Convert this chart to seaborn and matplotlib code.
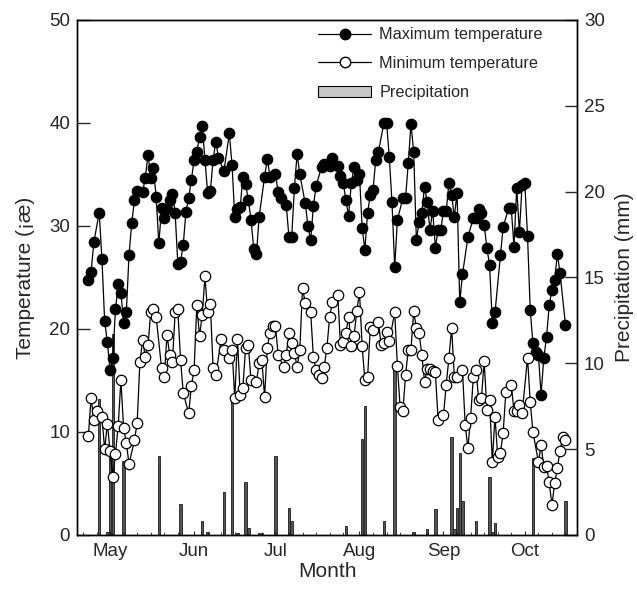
import numpy as np
import pandas as pd
import matplotlib
matplotlib.use("Agg")
import matplotlib.pyplot as plt
import matplotlib.dates as mdates
from matplotlib.lines import Line2D
from matplotlib.patches import Patch
import seaborn as sns

sns.set_style("ticks")
plt.rcParams["font.family"] = ["Liberation Sans", "DejaVu Sans"]

# first observation day (day 0)
start = pd.Timestamp("2009-04-23")

# daily maximum temperature (day offset, deg C)
tmax_day = [0, 1, 2, 4, 5, 6, 7, 8, 9, 10, 11, 12, 13, 14, 15, 16, 17, 18, 20, 21,
            22, 23, 24, 25, 26, 27, 28, 29, 30, 31, 32, 33, 34, 35, 36, 37, 38, 39, 40, 41,
            42, 43, 44, 45, 46, 47, 48, 50, 52, 53, 54, 55, 56, 57, 58, 59, 60, 61, 62, 63,
            65, 66, 67, 69, 70, 71, 73, 74, 75, 76, 77, 78, 80, 81, 82, 83, 84, 86, 87, 89,
            90, 92, 93, 94, 95, 96, 97, 98, 99, 100, 101, 102, 103, 104, 105, 106, 107, 109, 110, 111,
            112, 113, 114, 116, 117, 118, 119, 120, 121, 122, 123, 124, 125, 126, 127, 128, 129, 130, 131, 132,
            133, 134, 135, 136, 137, 138, 140, 142, 143, 144, 145, 146, 147, 148, 149, 150, 152, 153, 155, 156,
            157, 158, 159, 160, 161, 162, 163, 164, 165, 166, 167, 168, 169, 170, 171, 172, 173, 174, 176]
tmax = [24.8, 25.5, 28.4, 31.3, 26.8, 20.8, 18.7, 16.0, 17.2, 21.9, 24.4, 23.5, 20.6, 21.6, 27.2, 30.3, 32.5, 33.4, 33.3, 34.7,
        36.9, 34.7, 35.6, 32.8, 28.3, 31.7, 30.8, 31.6, 32.5, 33.1, 31.3, 26.3, 26.5, 28.2, 31.4, 32.7, 34.5, 36.4, 37.2, 38.6,
        39.7, 36.4, 33.2, 33.4, 36.4, 38.2, 36.6, 35.3, 39.0, 35.9, 30.9, 31.6, 31.8, 34.8, 34.1, 32.5, 30.6, 27.8, 27.3, 30.9,
        34.8, 36.5, 34.8, 35.0, 33.3, 32.7, 32.0, 28.9, 28.9, 33.7, 37.0, 35.0, 32.2, 30.0, 28.6, 31.9, 33.9, 35.7, 36.0, 35.8,
        36.6, 35.8, 34.9, 34.2, 32.5, 31.0, 34.2, 35.7, 34.5, 35.0, 29.8, 27.7, 31.3, 33.0, 33.5, 36.4, 37.2, 40.0, 40.0, 36.7,
        32.3, 26.0, 30.6, 32.7, 32.7, 36.1, 39.9, 37.2, 28.6, 30.4, 31.3, 33.8, 32.3, 29.6, 31.5, 27.9, 29.6, 29.6, 31.5, 31.5,
        34.2, 33.0, 30.9, 33.2, 22.6, 25.3, 28.9, 30.8, 30.8, 31.6, 31.3, 30.1, 27.9, 26.2, 20.6, 21.6, 27.2, 29.9, 31.7, 31.7,
        28.0, 33.7, 29.4, 34.0, 34.2, 29.0, 21.8, 18.6, 17.8, 17.5, 13.6, 17.2, 19.2, 22.3, 23.8, 24.8, 27.3, 25.4, 20.4]

# daily minimum temperature (day offset, deg C)
tmin_day = [0, 1, 2, 3, 5, 6, 7, 8, 9, 10, 11, 12, 13, 14, 15, 17, 18, 19, 20, 21,
            22, 23, 24, 25, 27, 28, 29, 30, 31, 32, 33, 34, 35, 37, 38, 39, 40, 41, 42, 43,
            44, 45, 46, 47, 49, 50, 52, 53, 54, 55, 56, 57, 58, 59, 60, 62, 63, 64, 65, 66,
            67, 68, 69, 70, 72, 73, 74, 75, 76, 77, 78, 79, 80, 82, 83, 84, 85, 86, 87, 88,
            89, 90, 92, 93, 94, 95, 96, 97, 98, 99, 100, 101, 102, 103, 104, 105, 107, 108, 109, 110,
            111, 113, 114, 115, 116, 117, 118, 119, 120, 121, 122, 123, 124, 125, 126, 127, 128, 129, 131, 132,
            133, 134, 135, 136, 138, 139, 140, 141, 142, 143, 144, 145, 146, 147, 148, 149, 150, 151, 152, 153,
            154, 156, 157, 158, 159, 160, 162, 163, 164, 166, 167, 168, 169, 170, 171, 172, 173, 174, 175, 176]
tmin = [9.6, 13.3, 11.2, 12.0, 11.5, 8.3, 10.8, 8.2, 5.6, 7.9, 10.6, 15.0, 10.4, 8.9, 6.9, 9.2, 10.9, 16.8, 18.9, 17.3,
        18.4, 21.6, 21.9, 21.2, 16.2, 15.3, 19.4, 17.5, 16.8, 21.6, 21.9, 17.0, 13.8, 11.8, 14.5, 16.0, 22.3, 19.3, 21.4, 25.1,
        21.6, 22.4, 16.2, 15.5, 19.0, 18.0, 17.2, 18.0, 13.3, 19.0, 13.6, 14.3, 18.2, 18.4, 15.0, 14.9, 16.7, 17.0, 13.4, 18.2,
        19.6, 20.3, 20.3, 17.5, 16.3, 17.5, 19.6, 18.6, 17.7, 16.3, 18.0, 24.0, 22.5, 21.6, 17.3, 16.0, 15.5, 15.2, 16.3, 18.2,
        21.2, 22.6, 23.3, 18.4, 18.7, 19.6, 21.2, 18.3, 19.3, 21.7, 23.6, 18.3, 15.0, 15.3, 20.2, 19.9, 20.7, 18.4, 18.6, 19.7,
        18.8, 21.6, 16.4, 12.4, 12.0, 15.5, 18.0, 18.0, 21.7, 20.1, 19.6, 17.5, 14.9, 16.1, 16.1, 15.9, 15.8, 11.2, 11.6, 14.6,
        17.2, 20.1, 15.3, 15.3, 16.0, 10.7, 8.4, 11.4, 15.3, 16.0, 13.1, 13.3, 16.9, 12.1, 13.1, 7.1, 11.5, 7.6, 8.0, 9.9,
        13.9, 14.6, 12.0, 12.0, 12.6, 11.8, 17.2, 12.9, 10.0, 7.1, 8.7, 6.6, 6.7, 5.1, 2.9, 5.0, 6.5, 8.2, 9.5, 9.2]

# daily precipitation (day offset, mm)
rain_day = [4, 7, 8, 9, 13, 26, 34, 42, 44, 50, 53, 55, 58, 59, 63, 64, 69, 74, 75,
            95, 101, 102, 109, 113, 120, 125, 128, 134, 135, 136, 137, 138, 143, 148, 149, 150, 164, 176]
rain = [7.9, 0.15, 4.8, 11.7, 4.3, 4.6, 1.8, 0.8, 0.2, 2.5, 8.0, 0.1, 3.1, 0.4, 0.1, 0.1, 4.6, 1.6, 0.8,
        0.5, 5.6, 7.5, 0.8, 9.6, 0.2, 0.35, 1.5, 5.7, 0.35, 1.6, 4.8, 2.0, 0.8, 3.4, 0.2, 0.7, 4.5, 2.0]

df_max = pd.DataFrame({"date": start + pd.to_timedelta(tmax_day, unit="D"), "temp": tmax})
df_min = pd.DataFrame({"date": start + pd.to_timedelta(tmin_day, unit="D"), "temp": tmin})
rain_dates = start + pd.to_timedelta(rain_day, unit="D")

fig = plt.figure(figsize=(6.37, 5.98), dpi=100)
ax = fig.add_axes([0.121, 0.1054, 0.785, 0.8612])
ax2 = ax.twinx()

# precipitation bars on the right axis, behind the temperature lines
ax2.bar(rain_dates, rain, width=0.9, color="#555555", edgecolor="#1a1a1a", linewidth=0.6)
ax2.set_ylim(0, 30)
ax2.set_yticks([0, 5, 10, 15, 20, 25, 30])
ax.set_zorder(ax2.get_zorder() + 1)
ax.patch.set_visible(False)

sns.lineplot(data=df_max, x="date", y="temp", ax=ax, color="black", linewidth=0.9,
             marker="o", markersize=7.5, markerfacecolor="black",
             markeredgecolor="black", markeredgewidth=0.9)
sns.lineplot(data=df_min, x="date", y="temp", ax=ax, color="black", linewidth=0.9,
             marker="o", markersize=7.5, markerfacecolor="white",
             markeredgecolor="black", markeredgewidth=0.9)

ax.set_ylim(0, 50)
ax.set_yticks([0, 10, 20, 30, 40, 50])
ax.set_xlim(pd.Timestamp("2009-04-18 20:00"), pd.Timestamp("2009-10-20 07:00"))
ax.xaxis.set_major_locator(mdates.MonthLocator())
ax.xaxis.set_major_formatter(mdates.DateFormatter("%b"))
ax.xaxis.set_minor_locator(mdates.DayLocator(bymonthday=[6, 11, 16, 21, 26]))

for a in (ax, ax2):
    for s in a.spines.values():
        s.set_visible(True)
        s.set_linewidth(1.0)
        s.set_color("black")
ax.tick_params(axis="y", direction="in", length=9, width=1, labelsize=13.5, pad=5)
ax.tick_params(axis="x", which="major", direction="in", length=3, width=0.8, labelsize=13.5, pad=6)
ax.tick_params(axis="x", which="minor", direction="in", length=2, width=0.6)
ax2.tick_params(axis="y", direction="in", length=9, width=1, labelsize=13.5, pad=5)

ax.set_xlabel("Month", fontsize=15, labelpad=1)
ax.set_ylabel("Temperature (¡æ)", fontsize=15, labelpad=10)
ax2.set_ylabel("Precipitation (mm)", fontsize=15, labelpad=7)

handles = [
    Line2D([0], [0], color="black", lw=0.9, marker="o", ms=7.5, mfc="black", mec="black"),
    Line2D([0], [0], color="black", lw=0.9, marker="o", ms=7.5, mfc="white", mec="black"),
    Patch(facecolor="#c8c8c8", edgecolor="black", linewidth=0.8),
]
ax.legend(handles, ["Maximum temperature", "Minimum temperature", "Precipitation"],
          loc="upper left", bbox_to_anchor=(0.486, 0.968), bbox_transform=fig.transFigure,
          frameon=False, borderpad=0, handlelength=3.3, handletextpad=0.5,
          labelspacing=0.85, fontsize=11.7)

fig.savefig("out.png", dpi=100)
